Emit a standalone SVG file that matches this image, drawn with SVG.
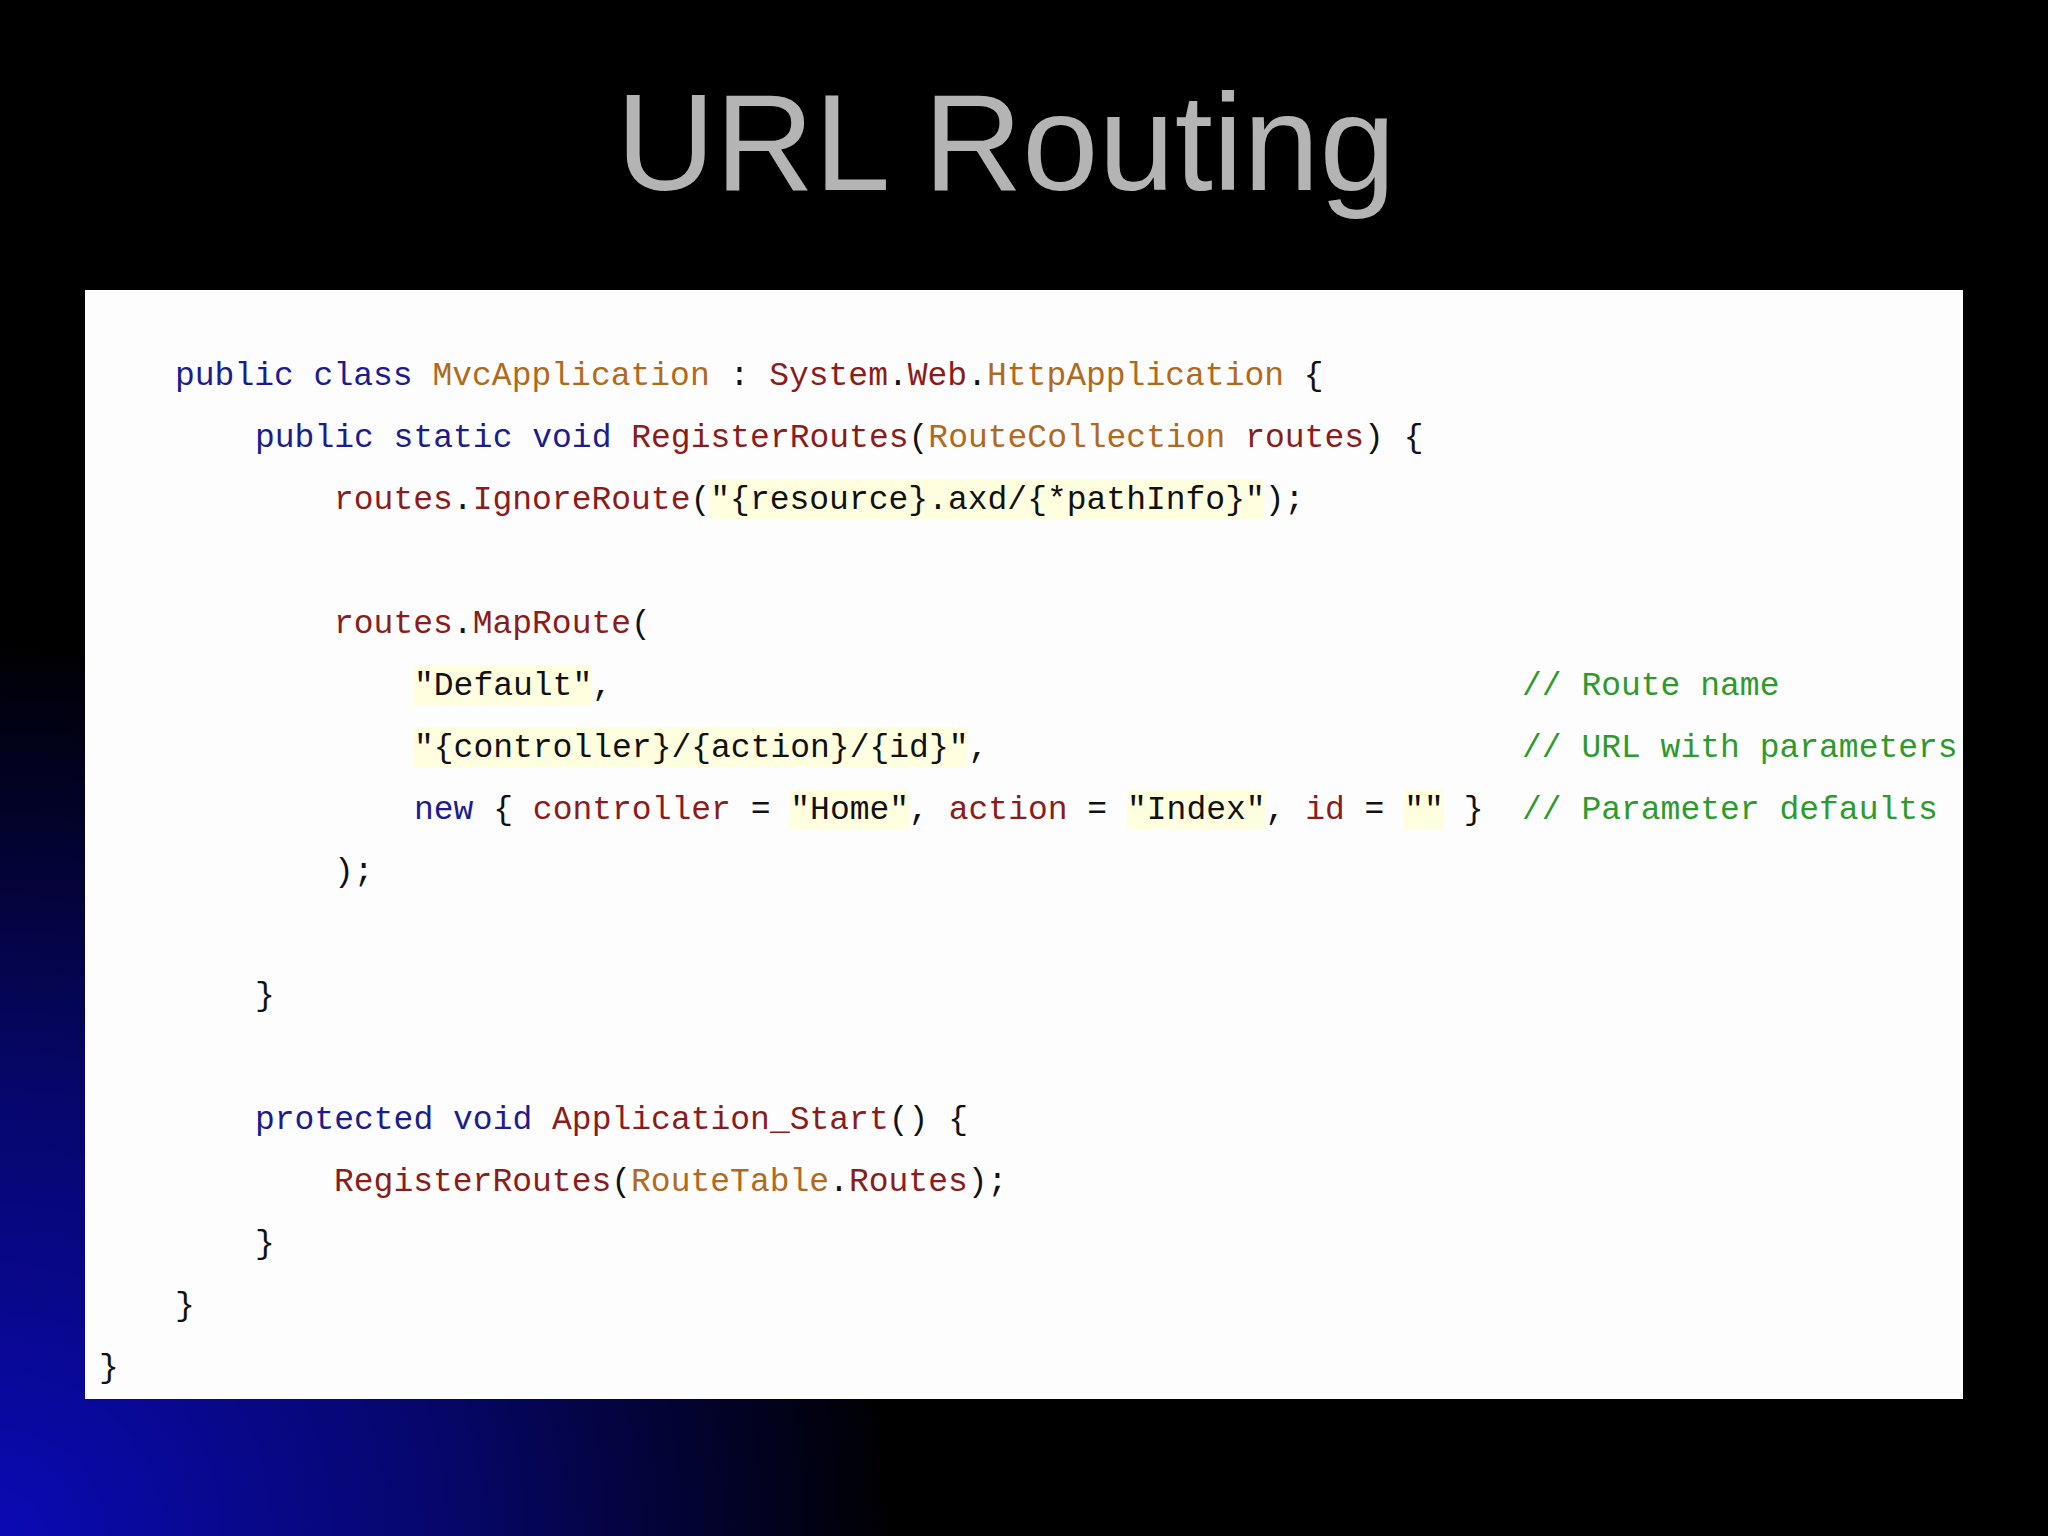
<svg xmlns="http://www.w3.org/2000/svg" width="2048" height="1536" viewBox="0 0 2048 1536">
<defs>
<radialGradient id="bg" cx="0" cy="1536" r="900" gradientUnits="userSpaceOnUse">
<stop offset="0" stop-color="#0a0ab4"/><stop offset="0.5" stop-color="#06066a"/><stop offset="1" stop-color="#000"/>
</radialGradient>
<style>
.c{font-family:"Liberation Mono",monospace;font-size:33px;fill:#111}
.k{fill:#1c1c8c}.t{fill:#b06a1e}.m{fill:#8b1c1c}.g{fill:#2e9a2e}
.h{fill:#ffffe0}
</style>
</defs>
<rect width="2048" height="1536" fill="#000"/>
<rect width="2048" height="1536" fill="url(#bg)"/>
<text x="1006" y="190" text-anchor="middle" font-family="Liberation Sans,Arial,sans-serif" font-size="137" fill="#b4b4b4">URL Routing</text>
<g id="code">
<rect x="85" y="290" width="1878" height="1109" fill="#fdfdfd"/>
<rect class="h" x="710" y="479" width="554" height="40"/>
<rect class="h" x="414" y="665" width="178" height="40"/>
<rect class="h" x="414" y="727" width="554" height="40"/>
<rect class="h" x="790" y="789" width="119" height="40"/>
<rect class="h" x="1127" y="789" width="139" height="40"/>
<rect class="h" x="1404" y="789" width="40" height="40"/>
<text class="c" x="175" y="385"><tspan class="k">public class </tspan><tspan class="t">MvcApplication</tspan> : <tspan class="m">System</tspan>.<tspan class="m">Web</tspan>.<tspan class="t">HttpApplication</tspan> {</text>
<text class="c" x="255" y="447"><tspan class="k">public static void </tspan><tspan class="m">RegisterRoutes</tspan>(<tspan class="t">RouteCollection</tspan> <tspan class="m">routes</tspan>) {</text>
<text class="c" x="334" y="509"><tspan class="m">routes</tspan>.<tspan class="m">IgnoreRoute</tspan>("{resource}.axd/{*pathInfo}");</text>
<text class="c" x="334" y="633"><tspan class="m">routes</tspan>.<tspan class="m">MapRoute</tspan>(</text>
<text class="c" x="414" y="695">"Default",</text>
<text class="c" x="414" y="757">"{controller}/{action}/{id}",</text>
<text class="c" x="414" y="819"><tspan class="k">new</tspan> { <tspan class="m">controller</tspan> = "Home", <tspan class="m">action</tspan> = "Index", <tspan class="m">id</tspan> = "" }</text>
<text class="c g" x="1522" y="695">// Route name</text>
<text class="c g" x="1522" y="757">// URL with parameters</text>
<text class="c g" x="1522" y="819">// Parameter defaults</text>
<text class="c" x="334" y="881">);</text>
<text class="c" x="255" y="1005">}</text>
<text class="c" x="255" y="1129"><tspan class="k">protected void </tspan><tspan class="m">Application_Start</tspan>() {</text>
<text class="c" x="334" y="1191"><tspan class="m">RegisterRoutes</tspan>(<tspan class="t">RouteTable</tspan>.<tspan class="m">Routes</tspan>);</text>
<text class="c" x="255" y="1253">}</text>
<text class="c" x="175" y="1315">}</text>
<text class="c" x="99" y="1377">}</text>
</g>
</svg>
